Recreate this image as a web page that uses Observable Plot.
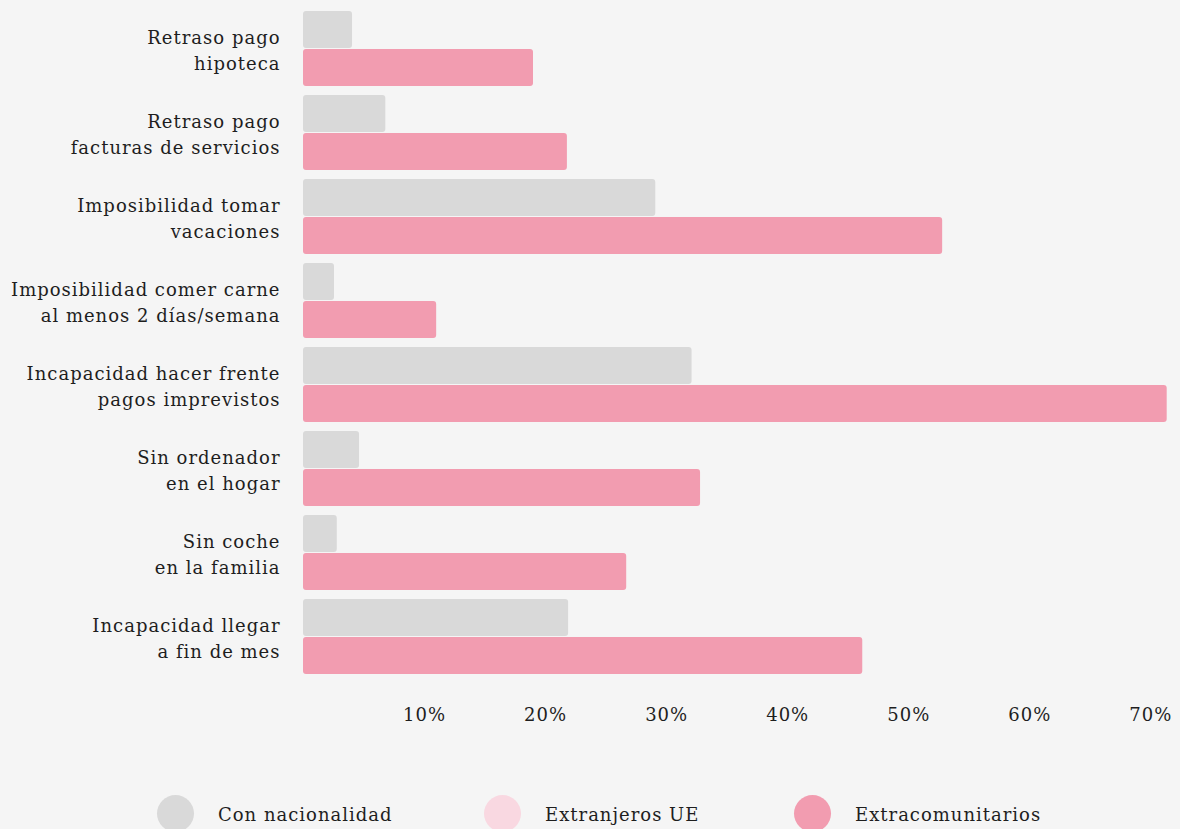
<!DOCTYPE html>
<html>
<head>
<meta charset="utf-8">
<script src="https://cdn.jsdelivr.net/npm/d3@7"></script>
<script src="https://cdn.jsdelivr.net/npm/@observablehq/plot@0.6"></script>
<style>
  html, body { margin: 0; padding: 0; background: #f5f5f5; }
  body { width: 1180px; height: 829px; overflow: hidden; font-family: "DejaVu Serif", serif; color: #1e1e1e; }
  #chart svg { display: block; letter-spacing: 1px; }
  .legend { position: relative; height: 37px; margin-top: 55px; }
  .item { position: absolute; top: 0; display: flex; align-items: center; height: 37px; font-size: 18px; letter-spacing: 1px; }
  .item span.txt { position: relative; top: 1px; }
  .dot { width: 37px; height: 37px; border-radius: 50%; margin-right: 24px; flex: none; }
</style>
</head>
<body>
<div id="chart"></div>
<div class="legend" id="legend"></div>
<script>
const categories = [
  "Retraso pago\nhipoteca",
  "Retraso pago\nfacturas de servicios",
  "Imposibilidad tomar\nvacaciones",
  "Imposibilidad comer carne\nal menos 2 días/semana",
  "Incapacidad hacer frente\npagos imprevistos",
  "Sin ordenador\nen el hogar",
  "Sin coche\nen la familia",
  "Incapacidad llegar\na fin de mes"
];
const series = ["Con nacionalidad", "Extranjeros UE", "Extracomunitarios"];
const seriesColors = ["#d9d9d9", "#f9d8e1", "#f29cb0"];
const conNacionalidad = [4.05, 6.8, 29.1, 2.56, 32.1, 4.63, 2.79, 21.9];
const extracomunitarios = [19.0, 21.8, 52.8, 11.0, 71.35, 32.8, 26.7, 46.2];
const xTicks = [10, 20, 30, 40, 50, 60, 70];

const rows = [];
categories.forEach((c, i) => {
  rows.push({cat: c, serie: series[0], value: conNacionalidad[i]});
  rows.push({cat: c, serie: series[2], value: extracomunitarios[i]});
});

const chart = Plot.plot({
  width: 1180,
  height: 740,
  marginLeft: 303,
  marginRight: 13.3,
  marginTop: 1,
  marginBottom: 55.6,
  style: {background: "transparent", fontFamily: "DejaVu Serif, serif", fontSize: "18px", color: "#1e1e1e"},
  fy: {domain: categories, paddingInner: 0.1068, paddingOuter: 0.1068, label: null, axis: null},
  y: {domain: [series[0], series[2]], paddingInner: 0.027, paddingOuter: 0, axis: null},
  color: {domain: series, range: seriesColors},
  marks: [
    Plot.barX(rows, {fy: "cat", y: "serie", x: "value", fill: "serie", rx: 3}),
    Plot.axisFy({anchor: "left", tickSize: 0, tickPadding: 23, label: null, fontSize: 18, lineHeight: 1.44, fill: "#1e1e1e"}),
    Plot.axisX({ticks: xTicks, tickFormat: d => d + "%", tickSize: 0, tickPadding: 34, label: null, fontSize: 18, fill: "#1e1e1e"})
  ]
});
document.getElementById("chart").appendChild(chart);

const legendLefts = [157, 484, 794];
const legend = document.getElementById("legend");
series.forEach((s, i) => {
  const item = document.createElement("div");
  item.className = "item";
  item.style.left = legendLefts[i] + "px";
  const dot = document.createElement("span");
  dot.className = "dot";
  dot.style.background = seriesColors[i];
  const label = document.createElement("span");
  label.className = "txt";
  label.textContent = s;
  item.appendChild(dot);
  item.appendChild(label);
  legend.appendChild(item);
});
</script>
</body>
</html>
